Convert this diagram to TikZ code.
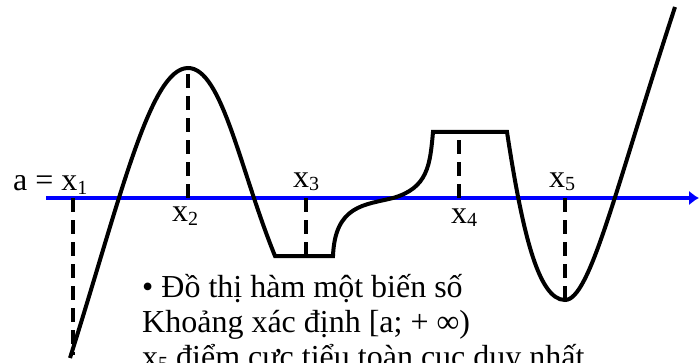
\documentclass[tikz,border=0pt]{standalone}
\usepackage{fontspec}
\setmainfont{Liberation Serif}
\usetikzlibrary{arrows.meta}
\definecolor{axisblue}{HTML}{0000FF}
\newcommand{\xsub}[1]{x\raisebox{-3pt}{\fontsize{20}{20}\selectfont #1}}

\begin{document}
\begin{tikzpicture}[x=1pt, y=-1pt,
  curve/.style={line width=4pt},
  guide/.style={line width=3.5pt, dash pattern=on 14pt off 8pt},
  lbl/.style={anchor=base west, inner sep=0pt, font=\fontsize{32}{35}\selectfont}]
\useasboundingbox (0,0) rectangle (700,363);
\clip (0,0) rectangle (700,363);
% axis
\coordinate (axL) at (46,198);
\coordinate (axR) at (699,198);
\draw[axisblue, line width=4pt, -{Latex[length=10pt,width=15pt]}] (axL) -- (axR);
% graph of the function
\draw[curve] (70,358) .. controls (120,200) and (150,68) .. (188,68)
  .. controls (222,68) and (240,170) .. (275,256)
  -- (333,256)
  .. controls (335,205) and (365,205) .. (393,198)
  .. controls (428,188) and (430,165) .. (433,132)
  -- (507,132)
  .. controls (522,230) and (538,300) .. (565,300)
  .. controls (590,300) and (615,190) .. (675,7);
% dashed guides
\coordinate (f1) at (73,198);  \coordinate (e1) at (73,355);
\coordinate (f2) at (188,198); \coordinate (e2) at (188,68);
\coordinate (f3) at (306,198); \coordinate (e3) at (306,256);
\coordinate (f4) at (459,198); \coordinate (e4) at (459,132);
\coordinate (f5) at (565,198); \coordinate (e5) at (565,300);
\draw[guide] (f1) -- (e1);
\draw[guide] (f2) -- (e2);
\draw[guide] (f3) -- (e3);
\draw[guide] (f4) -- (e4);
\draw[guide] (f5) -- (e5);
% labels
\node[lbl] (lx1) at (13,191) {a = \xsub{1}};
\node[lbl] (lx2) at (172,222) {\xsub{2}};
\node[lbl] (lx3) at (293,188) {\xsub{3}};
\node[lbl] (lx4) at (451,223) {\xsub{4}};
\node[lbl] (lx5) at (549,188) {\xsub{5}};
% caption text
\node[lbl] (t1) at (142,297) {• Đồ thị hàm một biến số};
\node[lbl] (t2) at (142,332) {Khoảng xác định [a; + ∞)};
\node[lbl] (t3) at (142,367) {\xsub{5} điểm cực tiểu toàn cục duy nhất};
\end{tikzpicture}
\end{document}
